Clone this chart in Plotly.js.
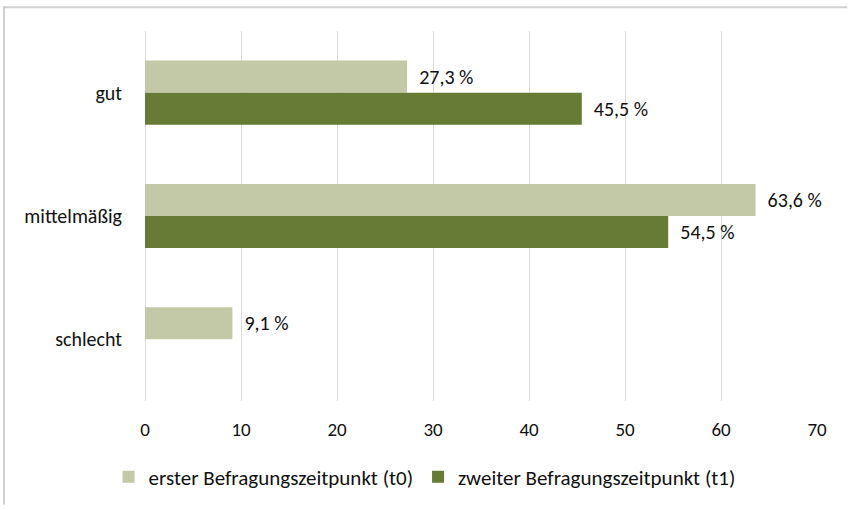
<!DOCTYPE html>
<html>
<head>
<meta charset="utf-8">
<script src="https://cdn.plot.ly/plotly-3.0.1.min.js"></script>
<style>html,body{margin:0;padding:0;background:#fff;}</style>
</head>
<body>
<div id="chart" style="width:848px;height:510px;"></div>
<script>
var categories = ['gut', 'mittelmäßig', 'schlecht'];
var seriesNames = ['erster Befragungszeitpunkt (t0)', 'zweiter Befragungszeitpunkt (t1)'];
var t0Values = [27.3, 63.6, 9.1];
var t1Values = [45.5, 54.5, 0];
var xTicks = [0, 10, 20, 30, 40, 50, 60, 70];

var FONT = 'Carlito, "Liberation Sans", Arial, sans-serif';
var TXT = '#111111';

function labels(vals) {
  return vals.map(function (v) {
    return v ? '\u00a0\u00a0' + v.toFixed(1).replace('.', ',') + ' %' : '';
  });
}

var traces = [
  {
    type: 'bar', orientation: 'h', name: seriesNames[0],
    y: categories, x: t0Values,
    marker: {color: '#c3c8a6'},
    text: labels(t0Values), textposition: 'outside', cliponaxis: false,
    textfont: {family: FONT, size: 20, color: TXT},
    hoverinfo: 'x+name'
  },
  {
    type: 'bar', orientation: 'h', name: seriesNames[1],
    y: categories, x: t1Values,
    marker: {color: '#667c34'},
    text: labels(t1Values), textposition: 'outside', cliponaxis: false,
    textfont: {family: FONT, size: 20, color: TXT},
    hoverinfo: 'x+name'
  }
];

var layout = {
  width: 848, height: 510,
  margin: {l: 145, r: 31, t: 31, b: 105},
  paper_bgcolor: '#ffffff', plot_bgcolor: '#ffffff',
  font: {family: FONT, size: 20, color: TXT},
  barmode: 'group', bargap: 0.48, bargroupgap: 0,
  showlegend: true,
  legend: {
    orientation: 'h', x: 0.416, xanchor: 'center', y: -0.15, yanchor: 'top',
    font: {family: FONT, size: 21, color: TXT},
    itemwidth: 30, tracegroupgap: 0
  },
  xaxis: {
    range: [0, 70], tickvals: xTicks, ticktext: xTicks.map(String),
    showgrid: true, gridcolor: '#d9d9d9', gridwidth: 1,
    zeroline: true, zerolinecolor: '#d9d9d9', zerolinewidth: 1,
    showline: false, ticks: 'outside', ticklen: 11, tickcolor: 'rgba(0,0,0,0)',
    tickfont: {family: FONT, size: 19, color: TXT},
    fixedrange: true
  },
  yaxis: {
    type: 'category', categoryorder: 'array', categoryarray: categories,
    autorange: 'reversed',
    showgrid: false, zeroline: false, showline: false,
    ticks: 'outside', ticklen: 18, tickcolor: 'rgba(0,0,0,0)',
    tickfont: {family: FONT, size: 20, color: TXT},
    fixedrange: true
  },
  shapes: [
    {type: 'rect', xref: 'paper', yref: 'paper',
     x0: -0.2113, x1: 1.045, y0: 1.0615, y1: 1.0668,
     fillcolor: '#d0d0d0', line: {width: 0}, layer: 'above'},
    {type: 'rect', xref: 'paper', yref: 'paper',
     x0: -0.2113, x1: -0.2083, y0: -0.28, y1: 1.0668,
     fillcolor: '#d0d0d0', line: {width: 0}, layer: 'above'}
  ]
};

Plotly.newPlot('chart', traces, layout, {displayModeBar: false, staticPlot: true});
</script>
</body>
</html>
